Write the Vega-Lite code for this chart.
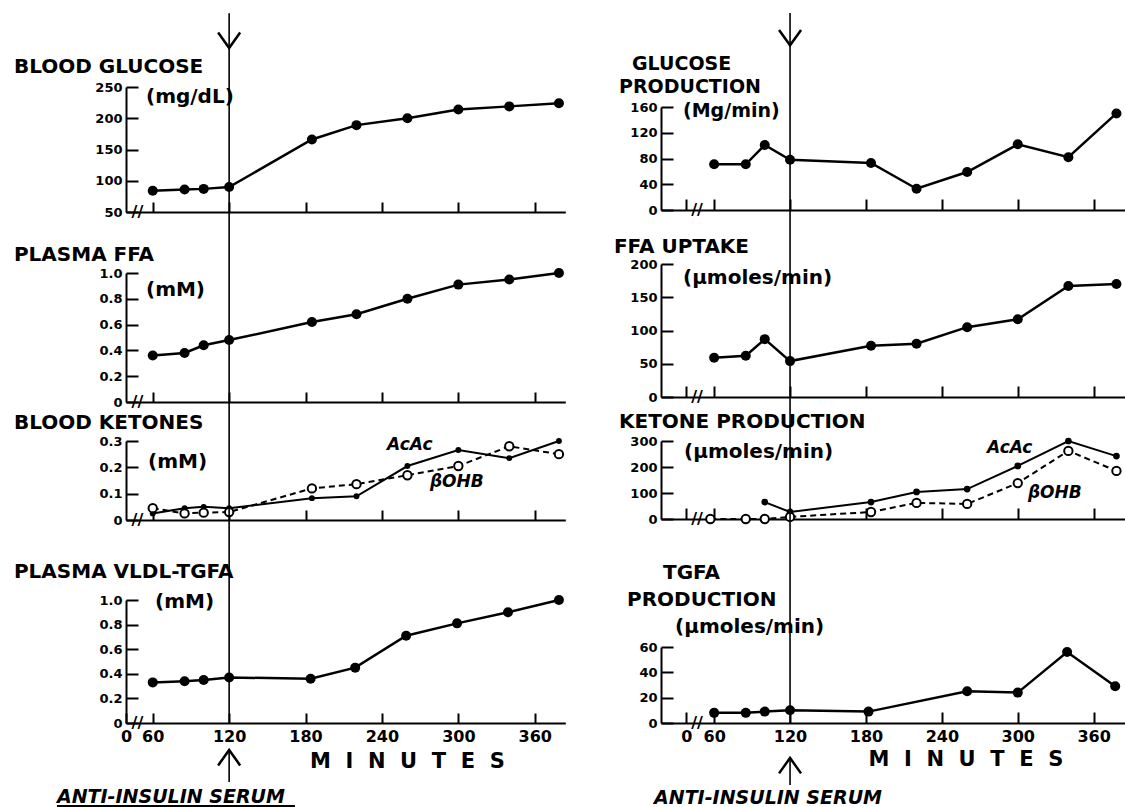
{
  "$schema": "https://vega.github.io/schema/vega-lite/v6.json",
  "width": 1125,
  "height": 807,
  "autosize": {"type": "none"},
  "padding": 0,
  "background": "white",
  "config": {
    "view": {"stroke": null},
    "font": "DejaVu Sans",
    "axis": {"grid": false, "domainColor": "black", "domainWidth": 2, "tickColor": "black", "tickWidth": 2, "labelColor": "black", "labelFont": "DejaVu Sans", "labelFontWeight": "bold", "labelFontSize": 13, "labelFlush": false, "labelOverlap": false}
  },
  "resolve": {"scale": {"x": "independent", "y": "independent"}, "axis": {"x": "independent", "y": "independent"}},
  "layer": [
    {
      "data": {"values": [
        {"t": 60, "v": 84}, {"t": 85, "v": 86}, {"t": 100, "v": 87}, {"t": 120, "v": 90}, {"t": 185, "v": 166},
        {"t": 220, "v": 189}, {"t": 260, "v": 200}, {"t": 300, "v": 214}, {"t": 340, "v": 219}, {"t": 379, "v": 224}
      ]},
      "encoding": {
        "x": {"field": "t", "type": "quantitative", "scale": {"domain": [39, 384], "range": [126, 565.3], "nice": false, "zero": false},
              "axis": {"orient": "bottom", "offset": -595, "values": [60, 120, 180, 240, 300, 360], "labels": false, "tickSize": -10, "title": null}},
        "y": {"field": "v", "type": "quantitative", "scale": {"domain": [50, 250], "range": [212, 87], "nice": false, "zero": false},
              "axis": {"orient": "left", "offset": -126, "values": [50, 100, 150, 200, 250], "tickSize": -12, "labelPadding": 16, "title": null}}
      },
      "layer": [
        {"mark": {"type": "line", "color": "black", "strokeWidth": 2.5}},
        {"mark": {"type": "point", "shape": "circle", "filled": true, "color": "black", "size": 100, "opacity": 1}},
        {"data": {"values": [{"t": -49, "v": 282, "label": "BLOOD GLUCOSE"}, {"t": 54.7, "v": 234, "label": "(mg/dL)"}]},
         "mark": {"type": "text", "align": "left", "baseline": "middle", "fontSize": 20, "fontWeight": "bold", "color": "black"},
         "encoding": {"text": {"field": "label"}}},
        {"data": {"values": [{"t": 48, "v": 50, "label": "//"}]},
         "mark": {"type": "text", "align": "center", "baseline": "middle", "fontSize": 16, "fontWeight": "bold", "color": "black"},
         "encoding": {"text": {"field": "label"}}}
      ]
    },
    {
      "data": {"values": [
        {"t": 60, "v": 0.36}, {"t": 85, "v": 0.38}, {"t": 100, "v": 0.44}, {"t": 120, "v": 0.48}, {"t": 185, "v": 0.62},
        {"t": 220, "v": 0.68}, {"t": 260, "v": 0.80}, {"t": 300, "v": 0.91}, {"t": 340, "v": 0.95}, {"t": 379, "v": 1.0}
      ]},
      "encoding": {
        "x": {"field": "t", "type": "quantitative", "scale": {"domain": [39, 384], "range": [126, 565.3], "nice": false, "zero": false},
              "axis": {"orient": "bottom", "offset": -405, "values": [60, 120, 180, 240, 300, 360], "labels": false, "tickSize": -10, "title": null}},
        "y": {"field": "v", "type": "quantitative", "scale": {"domain": [0, 1], "range": [402, 273], "nice": false, "zero": false},
              "axis": {"orient": "left", "offset": -126, "values": [0, 0.2, 0.4, 0.6, 0.8, 1.0], "labelExpr": "datum.value == 0 ? '0' : format(datum.value, '.1f')", "tickSize": -12, "labelPadding": 16, "title": null}}
      },
      "layer": [
        {"mark": {"type": "line", "color": "black", "strokeWidth": 2.5}},
        {"mark": {"type": "point", "shape": "circle", "filled": true, "color": "black", "size": 100, "opacity": 1}},
        {"data": {"values": [{"t": -49, "v": 1.14, "label": "PLASMA FFA"}, {"t": 54.7, "v": 0.868, "label": "(mM)"}]},
         "mark": {"type": "text", "align": "left", "baseline": "middle", "fontSize": 20, "fontWeight": "bold", "color": "black"},
         "encoding": {"text": {"field": "label"}}},
        {"data": {"values": [{"t": 48, "v": 0, "label": "//"}]},
         "mark": {"type": "text", "align": "center", "baseline": "middle", "fontSize": 16, "fontWeight": "bold", "color": "black"},
         "encoding": {"text": {"field": "label"}}}
      ]
    },
    {
      "data": {"values": [
        {"s": "AcAc", "t": 60, "v": 0.025}, {"s": "AcAc", "t": 85, "v": 0.045}, {"s": "AcAc", "t": 100, "v": 0.05}, {"s": "AcAc", "t": 120, "v": 0.045},
        {"s": "AcAc", "t": 185, "v": 0.083}, {"s": "AcAc", "t": 220, "v": 0.09}, {"s": "AcAc", "t": 260, "v": 0.205}, {"s": "AcAc", "t": 300, "v": 0.266},
        {"s": "AcAc", "t": 340, "v": 0.235}, {"s": "AcAc", "t": 379, "v": 0.30},
        {"s": "bOHB", "t": 60, "v": 0.045}, {"s": "bOHB", "t": 85, "v": 0.025}, {"s": "bOHB", "t": 100, "v": 0.028}, {"s": "bOHB", "t": 120, "v": 0.03},
        {"s": "bOHB", "t": 185, "v": 0.12}, {"s": "bOHB", "t": 220, "v": 0.136}, {"s": "bOHB", "t": 260, "v": 0.17}, {"s": "bOHB", "t": 300, "v": 0.205},
        {"s": "bOHB", "t": 340, "v": 0.28}, {"s": "bOHB", "t": 379, "v": 0.25}
      ]},
      "encoding": {
        "x": {"field": "t", "type": "quantitative", "scale": {"domain": [39, 384], "range": [126, 565.3], "nice": false, "zero": false},
              "axis": {"orient": "bottom", "offset": -287, "values": [60, 120, 180, 240, 300, 360], "labels": false, "tickSize": -10, "title": null}},
        "y": {"field": "v", "type": "quantitative", "scale": {"domain": [0, 0.3], "range": [520, 441], "nice": false, "zero": false},
              "axis": {"orient": "left", "offset": -126, "values": [0, 0.1, 0.2, 0.3], "labelExpr": "datum.value == 0 ? '0' : format(datum.value, '.1f')", "tickSize": -12, "labelPadding": 16, "title": null}}
      },
      "layer": [
        {"transform": [{"filter": "datum.s == 'bOHB'"}], "mark": {"type": "line", "color": "black", "strokeWidth": 2, "strokeDash": [6, 4]}},
        {"transform": [{"filter": "datum.s == 'AcAc'"}], "mark": {"type": "line", "color": "black", "strokeWidth": 2}},
        {"transform": [{"filter": "datum.s == 'AcAc'"}], "mark": {"type": "point", "shape": "circle", "filled": true, "color": "black", "size": 35, "opacity": 1}},
        {"transform": [{"filter": "datum.s == 'bOHB'"}], "mark": {"type": "point", "shape": "circle", "filled": true, "fill": "white", "stroke": "black", "strokeWidth": 2, "size": 70, "opacity": 1}},
        {"data": {"values": [{"t": -49, "v": 0.368, "label": "BLOOD KETONES"}, {"t": 56.3, "v": 0.22, "label": "(mM)"}]},
         "mark": {"type": "text", "align": "left", "baseline": "middle", "fontSize": 20, "fontWeight": "bold", "color": "black"},
         "encoding": {"text": {"field": "label"}}},
        {"data": {"values": [{"t": 244, "v": 0.285, "label": "AcAc"}, {"t": 277.7, "v": 0.144, "label": "βOHB"}]},
         "mark": {"type": "text", "align": "left", "baseline": "middle", "fontSize": 17, "fontWeight": "bold", "fontStyle": "italic", "color": "black"},
         "encoding": {"text": {"field": "label"}}},
        {"data": {"values": [{"t": 48, "v": 0, "label": "//"}]},
         "mark": {"type": "text", "align": "center", "baseline": "middle", "fontSize": 16, "fontWeight": "bold", "color": "black"},
         "encoding": {"text": {"field": "label"}}}
      ]
    },
    {
      "data": {"values": [
        {"t": 60, "v": 0.33}, {"t": 85, "v": 0.34}, {"t": 100, "v": 0.35}, {"t": 120, "v": 0.37}, {"t": 184, "v": 0.36},
        {"t": 219, "v": 0.45}, {"t": 259, "v": 0.71}, {"t": 299, "v": 0.81}, {"t": 339, "v": 0.90}, {"t": 379, "v": 1.0}
      ]},
      "encoding": {
        "x": {"field": "t", "type": "quantitative", "scale": {"domain": [39, 384], "range": [126, 565.3], "nice": false, "zero": false},
              "axis": {"orient": "bottom", "offset": -84, "values": [39, 60, 120, 180, 240, 300, 360], "labelExpr": "datum.value < 50 ? '0' : datum.label", "tickSize": -10, "labelPadding": 15, "labelFontSize": 16, "title": null}},
        "y": {"field": "v", "type": "quantitative", "scale": {"domain": [0, 1], "range": [723, 600], "nice": false, "zero": false},
              "axis": {"orient": "left", "offset": -126, "values": [0, 0.2, 0.4, 0.6, 0.8, 1.0], "labelExpr": "datum.value == 0 ? '0' : format(datum.value, '.1f')", "tickSize": -12, "labelPadding": 16, "title": null}}
      },
      "layer": [
        {"data": {"values": [{"t": 120, "v": 0, "v2": 5.77}, {"t": 120, "v": -0.2195, "v2": -0.48}]},
         "mark": {"type": "rule", "color": "black", "strokeWidth": 1.6},
         "encoding": {"y2": {"field": "v2"}}},
        {"data": {"values": [{"t": 120, "v": 5.488}]},
         "mark": {"type": "point", "shape": "M-1,-1.4L0,0L1,-1.4", "filled": false, "stroke": "black", "strokeWidth": 2.5, "size": 484, "opacity": 1}},
        {"data": {"values": [{"t": 120, "v": -0.2195}]},
         "mark": {"type": "point", "shape": "M-1,1.4L0,0L1,1.4", "filled": false, "stroke": "black", "strokeWidth": 2.5, "size": 484, "opacity": 1}},
        {"mark": {"type": "line", "color": "black", "strokeWidth": 2.5}},
        {"mark": {"type": "point", "shape": "circle", "filled": true, "color": "black", "size": 100, "opacity": 1}},
        {"data": {"values": [{"t": -49, "v": 1.228, "label": "PLASMA VLDL-TGFA"}, {"t": 61.8, "v": 0.984, "label": "(mM)"}]},
         "mark": {"type": "text", "align": "left", "baseline": "middle", "fontSize": 20, "fontWeight": "bold", "color": "black"},
         "encoding": {"text": {"field": "label"}}},
        {"data": {"values": [{"t": 260, "v": -0.317, "label": "M\u00a0\u00a0I\u00a0\u00a0N\u00a0\u00a0U\u00a0\u00a0T\u00a0\u00a0E\u00a0\u00a0S"}]},
         "mark": {"type": "text", "align": "center", "baseline": "middle", "fontSize": 21, "fontWeight": "bold", "color": "black"},
         "encoding": {"text": {"field": "label"}}},
        {"data": {"values": [{"t": -15.2, "v": -0.60, "label": "ANTI-INSULIN SERUM"}]},
         "mark": {"type": "text", "align": "left", "baseline": "middle", "fontSize": 19, "fontWeight": "bold", "fontStyle": "italic", "color": "black"},
         "encoding": {"text": {"field": "label"}}},
        {"data": {"values": [{"t": -15.2, "t2": 171.7, "v": -0.675}]},
         "mark": {"type": "rule", "color": "black", "strokeWidth": 2},
         "encoding": {"x2": {"field": "t2"}}},
        {"data": {"values": [{"t": 48, "v": 0, "label": "//"}]},
         "mark": {"type": "text", "align": "center", "baseline": "middle", "fontSize": 16, "fontWeight": "bold", "color": "black"},
         "encoding": {"text": {"field": "label"}}}
      ]
    },
    {
      "data": {"values": [
        {"t": 60, "v": 71}, {"t": 85, "v": 71}, {"t": 100, "v": 101}, {"t": 120, "v": 78}, {"t": 184, "v": 73},
        {"t": 220, "v": 33}, {"t": 260, "v": 59}, {"t": 300, "v": 102}, {"t": 340, "v": 82}, {"t": 378, "v": 150}
      ]},
      "encoding": {
        "x": {"field": "t", "type": "quantitative", "scale": {"domain": [18, 385], "range": [661, 1125.3], "nice": false, "zero": false},
              "axis": {"orient": "bottom", "offset": -597, "values": [38, 60, 120, 180, 240, 300, 360], "labels": false, "tickSize": -11, "title": null}},
        "y": {"field": "v", "type": "quantitative", "scale": {"domain": [0, 160], "range": [210, 107], "nice": false, "zero": false},
              "axis": {"orient": "left", "offset": -661, "values": [0, 40, 80, 120, 160], "tickSize": -12, "labelPadding": 16, "title": null}}
      },
      "layer": [
        {"mark": {"type": "line", "color": "black", "strokeWidth": 2.5}},
        {"mark": {"type": "point", "shape": "circle", "filled": true, "color": "black", "size": 100, "opacity": 1}},
        {"data": {"values": [{"t": -4.9, "v": 226.8, "label": "GLUCOSE"}, {"t": -15.2, "v": 190.3, "label": "PRODUCTION"}, {"t": 35.4, "v": 153.8, "label": "(Mg/min)"}]},
         "mark": {"type": "text", "align": "left", "baseline": "middle", "fontSize": 19, "fontWeight": "bold", "color": "black"},
         "encoding": {"text": {"field": "label"}}},
        {"data": {"values": [{"t": 46.5, "v": 0, "label": "//"}]},
         "mark": {"type": "text", "align": "center", "baseline": "middle", "fontSize": 16, "fontWeight": "bold", "color": "black"},
         "encoding": {"text": {"field": "label"}}}
      ]
    },
    {
      "data": {"values": [
        {"t": 60, "v": 59}, {"t": 85, "v": 62}, {"t": 100, "v": 87}, {"t": 120, "v": 54}, {"t": 184, "v": 77},
        {"t": 220, "v": 80}, {"t": 260, "v": 105}, {"t": 300, "v": 117}, {"t": 340, "v": 167}, {"t": 378, "v": 170}
      ]},
      "encoding": {
        "x": {"field": "t", "type": "quantitative", "scale": {"domain": [18, 385], "range": [661, 1125.3], "nice": false, "zero": false},
              "axis": {"orient": "bottom", "offset": -410, "values": [38, 60, 120, 180, 240, 300, 360], "labels": false, "tickSize": -11, "title": null}},
        "y": {"field": "v", "type": "quantitative", "scale": {"domain": [0, 200], "range": [397, 264], "nice": false, "zero": false},
              "axis": {"orient": "left", "offset": -661, "values": [0, 50, 100, 150, 200], "tickSize": -12, "labelPadding": 16, "title": null}}
      },
      "layer": [
        {"mark": {"type": "line", "color": "black", "strokeWidth": 2.5}},
        {"mark": {"type": "point", "shape": "circle", "filled": true, "color": "black", "size": 100, "opacity": 1}},
        {"data": {"values": [{"t": -19.2, "v": 225.6, "label": "FFA UPTAKE"}, {"t": 35.4, "v": 179, "label": "(μmoles/min)"}]},
         "mark": {"type": "text", "align": "left", "baseline": "middle", "fontSize": 20, "fontWeight": "bold", "color": "black"},
         "encoding": {"text": {"field": "label"}}},
        {"data": {"values": [{"t": 46.5, "v": 0, "label": "//"}]},
         "mark": {"type": "text", "align": "center", "baseline": "middle", "fontSize": 16, "fontWeight": "bold", "color": "black"},
         "encoding": {"text": {"field": "label"}}}
      ]
    },
    {
      "data": {"values": [
        {"s": "AcAc", "t": 100, "v": 65}, {"s": "AcAc", "t": 120, "v": 27}, {"s": "AcAc", "t": 184, "v": 65}, {"s": "AcAc", "t": 220, "v": 104},
        {"s": "AcAc", "t": 260, "v": 115}, {"s": "AcAc", "t": 300, "v": 204}, {"s": "AcAc", "t": 340, "v": 300}, {"s": "AcAc", "t": 378, "v": 242},
        {"s": "bOHB", "t": 57, "v": 0}, {"s": "bOHB", "t": 85, "v": 0}, {"s": "bOHB", "t": 100, "v": 0}, {"s": "bOHB", "t": 120, "v": 8},
        {"s": "bOHB", "t": 184, "v": 27}, {"s": "bOHB", "t": 220, "v": 62}, {"s": "bOHB", "t": 260, "v": 58}, {"s": "bOHB", "t": 300, "v": 138},
        {"s": "bOHB", "t": 340, "v": 262}, {"s": "bOHB", "t": 378, "v": 185}
      ]},
      "encoding": {
        "x": {"field": "t", "type": "quantitative", "scale": {"domain": [18, 385], "range": [661, 1125.3], "nice": false, "zero": false},
              "axis": {"orient": "bottom", "offset": -288, "values": [38, 60, 120, 180, 240, 300, 360], "labels": false, "tickSize": -11, "title": null}},
        "y": {"field": "v", "type": "quantitative", "scale": {"domain": [0, 300], "range": [519, 441], "nice": false, "zero": false},
              "axis": {"orient": "left", "offset": -661, "values": [0, 100, 200, 300], "tickSize": -12, "labelPadding": 16, "title": null}}
      },
      "layer": [
        {"transform": [{"filter": "datum.s == 'bOHB'"}], "mark": {"type": "line", "color": "black", "strokeWidth": 2, "strokeDash": [6, 4]}},
        {"transform": [{"filter": "datum.s == 'AcAc'"}], "mark": {"type": "line", "color": "black", "strokeWidth": 2}},
        {"transform": [{"filter": "datum.s == 'AcAc'"}], "mark": {"type": "point", "shape": "circle", "filled": true, "color": "black", "size": 45, "opacity": 1}},
        {"transform": [{"filter": "datum.s == 'bOHB'"}], "mark": {"type": "point", "shape": "circle", "filled": true, "fill": "white", "stroke": "black", "strokeWidth": 2, "size": 70, "opacity": 1}},
        {"data": {"values": [{"t": -15.2, "v": 373, "label": "KETONE PRODUCTION"}, {"t": 36.2, "v": 257.7, "label": "(μmoles/min)"}]},
         "mark": {"type": "text", "align": "left", "baseline": "middle", "fontSize": 20, "fontWeight": "bold", "color": "black"},
         "encoding": {"text": {"field": "label"}}},
        {"data": {"values": [{"t": 275.7, "v": 273, "label": "AcAc"}, {"t": 308, "v": 100, "label": "βOHB"}]},
         "mark": {"type": "text", "align": "left", "baseline": "middle", "fontSize": 17, "fontWeight": "bold", "fontStyle": "italic", "color": "black"},
         "encoding": {"text": {"field": "label"}}},
        {"data": {"values": [{"t": 46.5, "v": 0, "label": "//"}]},
         "mark": {"type": "text", "align": "center", "baseline": "middle", "fontSize": 16, "fontWeight": "bold", "color": "black"},
         "encoding": {"text": {"field": "label"}}}
      ]
    },
    {
      "data": {"values": [
        {"t": 60, "v": 8}, {"t": 85, "v": 8}, {"t": 100, "v": 9}, {"t": 120, "v": 10}, {"t": 182, "v": 9},
        {"t": 260, "v": 25}, {"t": 300, "v": 24}, {"t": 339, "v": 56}, {"t": 377, "v": 29}
      ]},
      "encoding": {
        "x": {"field": "t", "type": "quantitative", "scale": {"domain": [18, 385], "range": [661, 1125.3], "nice": false, "zero": false},
              "axis": {"orient": "bottom", "offset": -84, "values": [38, 60, 120, 180, 240, 300, 360], "labelExpr": "datum.value < 50 ? '0' : datum.label", "tickSize": -11, "labelPadding": 16, "labelFontSize": 16, "title": null}},
        "y": {"field": "v", "type": "quantitative", "scale": {"domain": [0, 60], "range": [723, 647], "nice": false, "zero": false},
              "axis": {"orient": "left", "offset": -661, "values": [0, 20, 40, 60], "tickSize": -12, "labelPadding": 16, "title": null}}
      },
      "layer": [
        {"data": {"values": [{"t": 120, "v": 0, "v2": 560.5}, {"t": 120, "v": -27.6, "v2": -48.9}]},
         "mark": {"type": "rule", "color": "black", "strokeWidth": 1.6},
         "encoding": {"y2": {"field": "v2"}}},
        {"data": {"values": [{"t": 120, "v": 535}]},
         "mark": {"type": "point", "shape": "M-1,-1.4L0,0L1,-1.4", "filled": false, "stroke": "black", "strokeWidth": 2.5, "size": 484, "opacity": 1}},
        {"data": {"values": [{"t": 120, "v": -27.6}]},
         "mark": {"type": "point", "shape": "M-1,1.4L0,0L1,1.4", "filled": false, "stroke": "black", "strokeWidth": 2.5, "size": 484, "opacity": 1}},
        {"mark": {"type": "line", "color": "black", "strokeWidth": 2.5}},
        {"mark": {"type": "point", "shape": "circle", "filled": true, "color": "black", "size": 100, "opacity": 1}},
        {"data": {"values": [{"t": 19.6, "v": 118.4, "label": "TGFA"}, {"t": -8.9, "v": 97.1, "label": "PRODUCTION"}, {"t": 29.1, "v": 75.8, "label": "(μmoles/min)"}]},
         "mark": {"type": "text", "align": "left", "baseline": "middle", "fontSize": 20, "fontWeight": "bold", "color": "black"},
         "encoding": {"text": {"field": "label"}}},
        {"data": {"values": [{"t": 259, "v": -29.2, "label": "M\u00a0\u00a0I\u00a0\u00a0N\u00a0\u00a0U\u00a0\u00a0T\u00a0\u00a0E\u00a0\u00a0S"}]},
         "mark": {"type": "text", "align": "center", "baseline": "middle", "fontSize": 21, "fontWeight": "bold", "color": "black"},
         "encoding": {"text": {"field": "label"}}},
        {"data": {"values": [{"t": 12.5, "v": -59.2, "label": "ANTI-INSULIN SERUM"}]},
         "mark": {"type": "text", "align": "left", "baseline": "middle", "fontSize": 19, "fontWeight": "bold", "fontStyle": "italic", "color": "black"},
         "encoding": {"text": {"field": "label"}}},
        {"data": {"values": [{"t": 46.5, "v": 0, "label": "//"}]},
         "mark": {"type": "text", "align": "center", "baseline": "middle", "fontSize": 16, "fontWeight": "bold", "color": "black"},
         "encoding": {"text": {"field": "label"}}}
      ]
    }
  ]
}
